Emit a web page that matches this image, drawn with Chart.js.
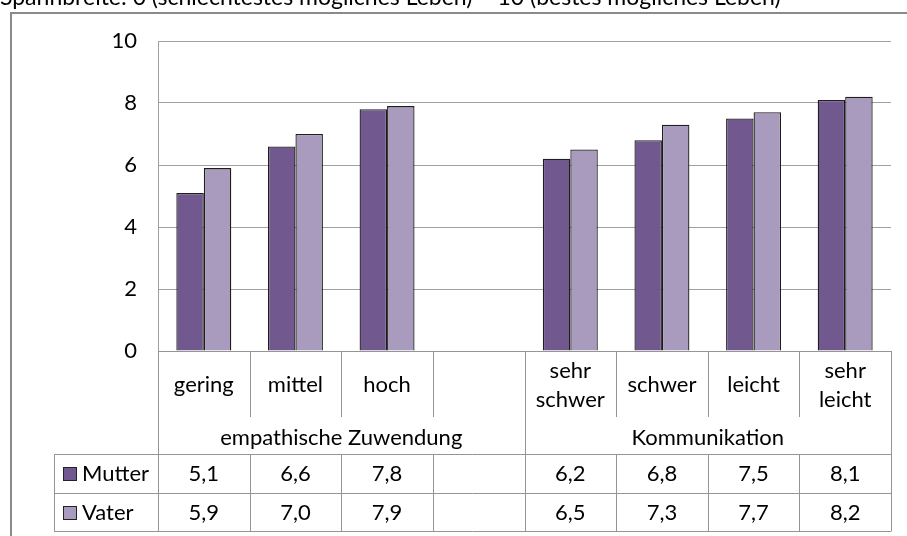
<!DOCTYPE html>
<html><head><meta charset="utf-8">
<script src="https://cdn.jsdelivr.net/npm/chart.js@4.4.0/dist/chart.umd.min.js"></script>
<style>html,body{margin:0;padding:0;background:#fff;overflow:hidden}canvas{display:block}</style>
</head><body>
<canvas id="c" width="907" height="536"></canvas>
<script>
const titleText = 'Spannbreite: 0 (schlechtestes mögliches Leben) – 10 (bestes mögliches Leben)';
const categories = ['gering', 'mittel', 'hoch', '', ['sehr', 'schwer'], 'schwer', 'leicht', ['sehr', 'leicht']];
const groupLabels = ['empathische Zuwendung', 'Kommunikation'];
const groupSizes = [4, 4];
const seriesNames = ['Mutter', 'Vater'];
const mutter = [5.1, 6.6, 7.8, null, 6.2, 6.8, 7.5, 8.1];
const vater = [5.9, 7.0, 7.9, null, 6.5, 7.3, 7.7, 8.2];
const yTicks = [0, 2, 4, 6, 8, 10];

const FONT_FAMILY = 'Lato';
const FONT_SIZE = 22;
const TITLE_SIZE = 23;
const COLORS = ['#71588F', '#A99BBD'];
const LINE = '#959595';
const TEXT = '#000';
const fmt = v => v == null ? '' : v.toFixed(1).replace('.', ',');

const tablePlugin = {
  id: 'tablePlugin',
  afterDraw(chart) {
    const { ctx, chartArea: a, scales: { x } } = chart;
    const n = categories.length;
    const w = x.getPixelForValue(1) - x.getPixelForValue(0);
    const bound = i => x.getPixelForValue(i) - w / 2;
    const axisY = a.bottom;
    const catBottom = 417, groupBottom = 454, rowMid = 492.5, tableBottom = 531, tableLeft = 54;
    const seriesData = [mutter, vater];
    ctx.save();
    // title
    ctx.fillStyle = TEXT;
    ctx.font = TITLE_SIZE + 'px ' + FONT_FAMILY;
    ctx.textAlign = 'left';
    ctx.textBaseline = 'alphabetic';
    ctx.fillText(titleText, 0, 5);
    ctx.font = FONT_SIZE + 'px ' + FONT_FAMILY;
    // outer border
    ctx.strokeStyle = '#8a8a8a';
    ctx.lineWidth = 2;
    ctx.beginPath();
    ctx.moveTo(11, 540); ctx.lineTo(11, 13); ctx.lineTo(910, 13);
    ctx.stroke();
    // table lines
    ctx.strokeStyle = LINE;
    ctx.lineWidth = 1;
    const hl = (x1, x2, y) => { y = Math.round(y) + 0.5; ctx.beginPath(); ctx.moveTo(x1, y); ctx.lineTo(x2, y); ctx.stroke(); };
    const vl = (xx, y1, y2) => { xx = Math.round(xx) + 0.5; ctx.beginPath(); ctx.moveTo(xx, y1); ctx.lineTo(xx, y2); ctx.stroke(); };
    hl(a.left, a.right, axisY);
    hl(tableLeft, a.right, groupBottom);
    hl(tableLeft, a.right, rowMid);
    hl(tableLeft, a.right, tableBottom);
    vl(a.left, axisY, tableBottom + 0.5);
    vl(a.right, axisY, tableBottom + 0.5);
    vl(tableLeft, groupBottom, tableBottom + 0.5);
    // group boundaries
    const groupEdges = [];
    let acc = 0;
    groupSizes.forEach(s => { acc += s; groupEdges.push(acc); });
    for (let i = 1; i < n; i++) {
      if (groupEdges.includes(i)) {
        vl(bound(i), axisY, tableBottom);
      } else {
        vl(bound(i), axisY, catBottom);
        vl(bound(i), groupBottom, tableBottom);
      }
    }
    // category labels
    ctx.fillStyle = TEXT;
    ctx.textAlign = 'center';
    ctx.textBaseline = 'middle';
    const catMid = (axisY + catBottom) / 2 + 1;
    const lh = 29;
    categories.forEach((c, i) => {
      const lines = Array.isArray(c) ? c : [c];
      const cx = x.getPixelForValue(i);
      lines.forEach((t, k) => {
        ctx.fillText(t, cx, catMid + (k - (lines.length - 1) / 2) * lh);
      });
    });
    // group labels
    let start = 0;
    groupLabels.forEach((g, gi) => {
      const end = start + groupSizes[gi];
      ctx.fillText(g, (bound(start) + bound(end)) / 2, (catBottom + groupBottom) / 2 + 2);
      start = end;
    });
    // data rows
    const rowTops = [groupBottom, rowMid];
    const rowBots = [rowMid, tableBottom];
    seriesData.forEach((arr, si) => {
      const cy = (rowTops[si] + rowBots[si]) / 2 + 1;
      ctx.textAlign = 'center';
      arr.forEach((v, i) => ctx.fillText(fmt(v), x.getPixelForValue(i), cy));
      // legend key
      ctx.fillStyle = COLORS[si];
      ctx.fillRect(63, Math.round(cy - 7), 14, 14);
      ctx.strokeStyle = '#222';
      ctx.strokeRect(63.5, Math.round(cy - 7) + 0.5, 13, 13);
      ctx.fillStyle = TEXT;
      ctx.textAlign = 'left';
      ctx.fillText(seriesNames[si], 82, cy);
    });
    ctx.restore();
  }
};

new Chart(document.getElementById('c'), {
  type: 'bar',
  data: {
    labels: categories,
    datasets: [
      { label: seriesNames[0], data: mutter, backgroundColor: COLORS[0], borderColor: '#1e1e1e', borderWidth: 1.3 },
      { label: seriesNames[1], data: vater, backgroundColor: COLORS[1], borderColor: '#1e1e1e', borderWidth: 1.3 }
    ]
  },
  options: {
    responsive: false,
    animation: false,
    devicePixelRatio: 1,
    categoryPercentage: 0.6,
    barPercentage: 1.0,
    layout: { padding: { left: 0, right: 16, top: 41, bottom: 185 } },
    plugins: { legend: { display: false }, tooltip: { enabled: false } },
    scales: {
      x: { display: false },
      y: {
        min: yTicks[0], max: yTicks[yTicks.length - 1],
        afterFit(scale) { scale.width = 158; },
        afterBuildTicks(scale) { scale.ticks = yTicks.map(v => ({ value: v })); },
        ticks: { padding: 21, color: TEXT, font: { family: FONT_FAMILY, size: FONT_SIZE } },
        grid: { color: '#a0a0a0', drawTicks: false },
        border: { display: true, color: '#a0a0a0' }
      }
    }
  },
  plugins: [tablePlugin]
});
</script>
</body></html>
